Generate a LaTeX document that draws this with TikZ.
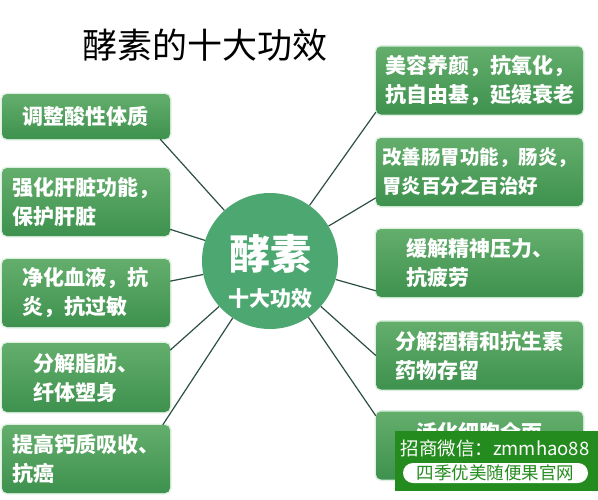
\documentclass[tikz,border=0pt]{standalone}
\usepackage{fontspec}
\newfontfamily\cjk{Noto Sans CJK SC}
\usetikzlibrary{positioning}

\definecolor{boxtop}{RGB}{100,174,108}
\definecolor{boxbot}{RGB}{62,145,78}
\definecolor{boxglow}{RGB}{222,240,226}
\definecolor{hubgreen}{RGB}{76,168,112}
\definecolor{linkgray}{RGB}{44,78,68}
\definecolor{wmgreen}{RGB}{36,140,30}

\begin{document}
\begin{tikzpicture}[x=1pt,y=-1pt,
    box/.style={rectangle, rounded corners=5pt, top color=boxtop, bottom color=boxbot,
      preaction={draw=boxglow, line width=3pt},
      text=white, font=\cjk\bfseries\fontsize{21}{29}\selectfont, align=left,
      inner sep=0pt, minimum height=68pt},
    lbox/.style={box, minimum width=168pt},
    rbox/.style={box, minimum width=207pt},
    link/.style={draw=linkgray, line width=1.2pt},
  ]
  \useasboundingbox (0,0) rectangle (598,499);

  % title
  \node[font=\cjk\fontsize{35}{40}\selectfont] (title) at (205,45) {酵素的十大功效};

  % centre
  \node[circle, fill=hubgreen, minimum size=136pt, inner sep=0pt, text=white,
        align=center, font=\cjk\bfseries] (hub) at (270,261)
        {\rule{0pt}{56pt}\fontsize{41}{41}\selectfont 酵素\\[14pt]\fontsize{21}{21}\selectfont 十大功效};

  % left column
  \node[lbox, minimum height=45pt] (l1) at (86,116.5) {调整酸性体质};
  \node[lbox] (l2) at (86,202) {强化肝脏功能，\\保护肝脏};
  \node[lbox] (l3) at (86,293) {净化血液，抗\\炎，抗过敏};
  \node[lbox, minimum height=69pt] (l4) at (86,377.5) {分解脂肪、\\纤体塑身};
  \node[lbox] (l5) at (86,459) {提高钙质吸收、\\抗癌};

  % right column
  \node[rbox] (r1) at (479.5,80.5) {美容养颜，抗氧化，\\抗自由基，延缓衰老};
  \node[rbox, font=\cjk\bfseries\fontsize{19.5}{29}\selectfont] (r2) at (479.5,172) {改善肠胃功能，肠炎，\\胃炎百分之百治好};
  \node[rbox] (r3) at (479.5,263) {缓解精神压力、\\抗疲劳};
  \node[rbox] (r4) at (479.5,355.5) {分解酒精和抗生素\\药物存留};
  \node[rbox] (r5) at (479.5,445.5) {活化细胞全面\\\mbox{}};

  % links
  \draw[link] (hub) -- (l1.-17);
  \draw[link] (hub) -- (l2.-18);
  \draw[link] (hub) -- (l3.8);
  \draw[link] (hub) -- (l4.18);
  \draw[link] (hub) -- (l5.24);
  \draw[link] (hub) -- (r1.197);
  \draw[link] (hub) -- (r2.194);
  \draw[link] (hub) -- (r3.195);
  \draw[link] (hub) -- (r4.west);
  \draw[link] (hub) -- (r5.164);

  % watermark
  \node[fill=wmgreen, minimum width=203pt, minimum height=60pt, inner sep=0pt] (wm) at (496.5,461) {};
  \node[text=white, font=\cjk\fontsize{18.5}{20}\selectfont] (wmtext) at (495,448) {招商微信：zmmhao88};
  \node[fill=white, rounded corners=10pt, minimum width=185pt, minimum height=20pt, inner sep=0pt,
        text=wmgreen, font=\cjk\fontsize{17.5}{19}\selectfont] (wmpill) at (495.5,473) {四季优美随便果官网};
\end{tikzpicture}
\end{document}
